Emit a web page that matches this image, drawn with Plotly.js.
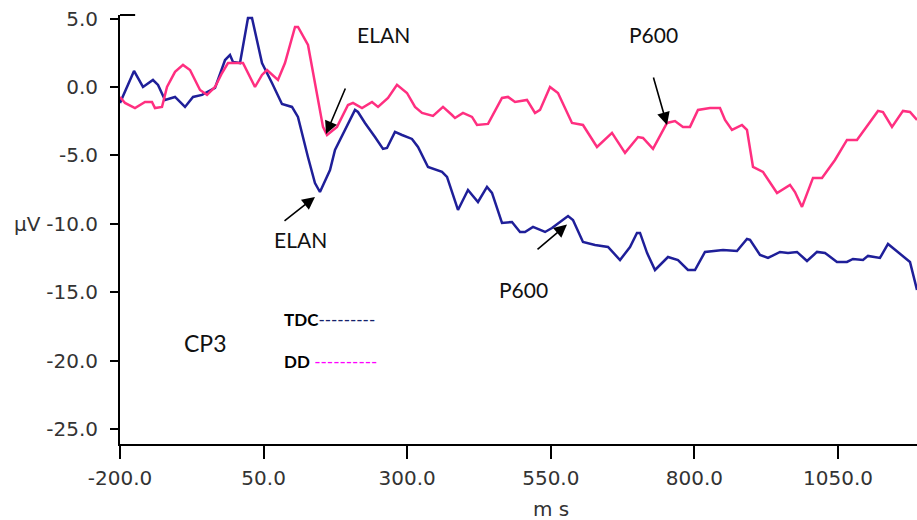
<!DOCTYPE html>
<html>
<head>
<meta charset="utf-8">
<script src="https://cdn.plot.ly/plotly-3.0.1.min.js"></script>
<style>
  html, body { margin: 0; padding: 0; background: #fff; }
  #chart { width: 917px; height: 520px; }
</style>
</head>
<body>
<div id="chart"></div>
<script>
// TDC (blue) waveform: time in ms and amplitude in µV
var tdcTime = [-200,-175.6,-160,-142.6,-133.8,-121.7,-104.2,-86.8,-72.9,-57.2,-34.6,-17.1,-8.5,-3.3,8.9,22.8,29.8,47.2,64.6,82,99.4,109.8,127.2,139.4,148.1,165.6,174.3,195.2,209.1,214.3,226.5,243.9,257.9,264.8,278.7,291,308.3,318.8,336.2,360.6,369.3,388.4,405.8,423.2,438.9,447.6,465,482.4,496.4,505,519,540,552,580,588.6,606,627,649.6,670.5,687.9,700,705.3,717.5,731.4,754,771.4,788.8,801,818.4,849.8,874.1,891.5,896.8,914.2,928.1,949,963,978.6,996,1013.4,1027.3,1048.2,1065.6,1076,1093.5,1102.2,1123,1137,1161.4,1175.3,1187.5];
var tdcValue = [-1.17,1.17,0,0.51,0.15,-0.95,-0.73,-1.46,-0.73,-0.58,-0.07,1.97,2.34,1.83,1.75,5.04,5.04,1.75,0.29,-1.24,-1.46,-2.19,-5.12,-7.02,-7.68,-6.07,-4.61,-2.92,-1.68,-1.83,-2.63,-3.66,-4.53,-4.46,-3.29,-3.51,-3.80,-4.39,-5.85,-6.21,-6.58,-8.99,-7.53,-8.41,-7.31,-7.75,-9.94,-9.87,-10.6,-10.6,-10.23,-10.6,-10.31,-9.43,-9.72,-11.33,-11.55,-11.7,-12.65,-11.7,-10.67,-10.67,-12.13,-13.38,-12.43,-12.65,-13.38,-13.38,-12.06,-11.92,-11.99,-11.11,-11.18,-12.28,-12.5,-12.06,-12.13,-12.06,-12.72,-12.06,-12.13,-12.79,-12.79,-12.57,-12.65,-12.35,-12.5,-11.48,-12.28,-12.79,-14.84];

// DD (pink) waveform
var ddTime = [-200,-191.3,-173.9,-156.5,-144.3,-139.1,-126.9,-118.2,-104.2,-90.3,-78.1,-60.7,-48.5,-34.6,-22.4,-12,14.1,35,47.2,55.9,75,87.2,104.7,109.9,127.3,139.5,153.4,160.4,177.8,196.9,205.6,221.3,238.7,249.2,266.6,282.2,299.6,313.6,325.8,344.9,362.3,378,383.2,397.1,412.8,421.5,440.7,465,475.5,487.7,508.5,522.5,531.2,548.6,562.5,586.9,606,630.4,656.5,679.2,701.8,710.5,727.9,752.3,766.2,780.1,792.3,806.2,827.1,844.5,853.3,865.4,882.8,891.5,902,919.4,943.8,966.4,975.1,987.3,1006.4,1022.1,1044.7,1065.6,1083,1105.7,1119.6,1128.3,1144,1163.1,1175.3,1187.5];
var ddValue = [-0.73,-1.17,-1.54,-1.10,-1.10,-1.54,-1.46,0,1.10,1.61,1.24,-0.22,-0.58,0,1.02,1.75,1.75,0,0.88,1.24,0.51,1.75,4.39,4.39,3.07,0.22,-2.92,-3.51,-2.92,-1.32,-1.17,-1.54,-1.10,-1.46,-0.80,0.15,-0.44,-1.46,-1.90,-2.12,-1.46,-2.05,-2.27,-1.90,-2.19,-2.78,-2.70,-0.80,-0.73,-1.10,-0.95,-1.90,-1.68,0,-0.44,-2.63,-2.78,-4.39,-3.36,-4.82,-3.66,-3.73,-4.53,-2.63,-2.49,-2.92,-2.92,-1.68,-1.54,-1.54,-2.41,-3.14,-2.78,-3.14,-5.85,-6.21,-7.75,-7.16,-7.68,-8.77,-6.65,-6.65,-5.34,-3.87,-3.87,-2.56,-1.75,-1.83,-2.92,-1.75,-1.83,-2.41];

// Axis ticks
var xTickVals = [-200, 50, 300, 550, 800, 1050];
var xTickText = ["-200.0", "50.0", "300.0", "550.0", "800.0", "1050.0"];
var yTickVals = [5, 0, -5, -10, -15, -20, -25];
var yTickText = ["5.0", "0.0", "-5.0", "-10.0", "-15.0", "-20.0", "-25.0"];

// Component labels with arrow tips (ms, µV)
var arrowLabels = [
  {x: 158.6, y: -3.44, ax: 20, ay: -47},
  {x: 139.5, y: -8.04, ax: -32, ay: 25},
  {x: 752.3, y: -2.78, ax: -14, ay: -49},
  {x: 578.2, y: -10.06, ax: -31, ay: 26}
];
var textLabels = [
  {text: "ELAN", x: 257.9, y: 3.87},
  {text: "ELAN", x: 113.4, y: -11.18},
  {text: "P600", x: 727.9, y: 3.87},
  {text: "P600", x: 501.6, y: -14.84},
  {text: "CP3", x: -52, y: -18.7, size: 23}
];

var blue = "#1f1f99";
var pink = "#ff2f80";
var tickFont = {family: "DejaVu Sans", size: 20, color: "#333333"};

var traces = [
  {x: tdcTime, y: tdcValue, type: "scatter", mode: "lines", name: "TDC",
   line: {color: blue, width: 2.5}},
  {x: ddTime, y: ddValue, type: "scatter", mode: "lines", name: "DD",
   line: {color: pink, width: 2.5}}
];

var annotations = [];
arrowLabels.forEach(function(a) {
  annotations.push({x: a.x, y: a.y, xref: "x", yref: "y", ax: a.ax, ay: a.ay,
    axref: "pixel", ayref: "pixel", text: "", showarrow: true,
    arrowhead: 2, arrowsize: 1.6, arrowwidth: 1.6, arrowcolor: "#000", standoff: 0});
});
textLabels.forEach(function(t) {
  annotations.push({x: t.x, y: t.y, xref: "x", yref: "y", text: t.text, showarrow: false,
    xanchor: "center", yanchor: "middle",
    font: {family: "Lato", size: t.size || 21, color: "#111"}});
});
// legend-like labels
annotations.push({x: 82, y: -17.0, xref: "x", yref: "y", xanchor: "left", yanchor: "middle", showarrow: false,
  text: "<b>TDC</b><span style='color:#14226a'>---------</span>",
  font: {family: "Lato", size: 17, color: "#000"}});
annotations.push({x: 82, y: -20.1, xref: "x", yref: "y", xanchor: "left", yanchor: "middle", showarrow: false,
  text: "<b>DD</b> <span style='color:#ff00ff'>----------</span>",
  font: {family: "Lato", size: 17, color: "#000"}});
// axis labels
annotations.push({x: -0.096, y: -10, xref: "paper", yref: "y", xanchor: "right", yanchor: "middle",
  showarrow: false, text: "µV", font: tickFont});
annotations.push({x: 550, y: -0.152, xref: "x", yref: "paper", xanchor: "center", yanchor: "middle",
  showarrow: false, text: "m s", font: tickFont});

var layout = {
  width: 917, height: 520,
  margin: {l: 120, r: 0, t: 15, b: 76, pad: 0},
  paper_bgcolor: "#fff", plot_bgcolor: "#fff",
  showlegend: false,
  xaxis: {range: [-200, 1187.5], tickvals: xTickVals, ticktext: xTickText,
    ticks: "outside", ticklen: 13, tickwidth: 2, tickcolor: "#000",
    showline: true, linewidth: 2, linecolor: "#000", showgrid: false, zeroline: false,
    tickfont: tickFont, ticklabelstandoff: 2, fixedrange: true},
  yaxis: {range: [-26.1, 5.26], tickvals: yTickVals, ticktext: yTickText,
    ticks: "outside", ticklen: 8, tickwidth: 2, tickcolor: "#000",
    showline: true, linewidth: 2, linecolor: "#000", showgrid: false, zeroline: false,
    tickfont: tickFont, ticklabelstandoff: 8, fixedrange: true},
  shapes: [
    {type: "line", xref: "paper", yref: "paper", x0: 0, x1: 0.019, y0: 1, y1: 1,
     line: {color: "#000", width: 2}}
  ],
  annotations: annotations
};

Plotly.newPlot("chart", traces, layout, {displayModeBar: false, staticPlot: true});
</script>
</body>
</html>
